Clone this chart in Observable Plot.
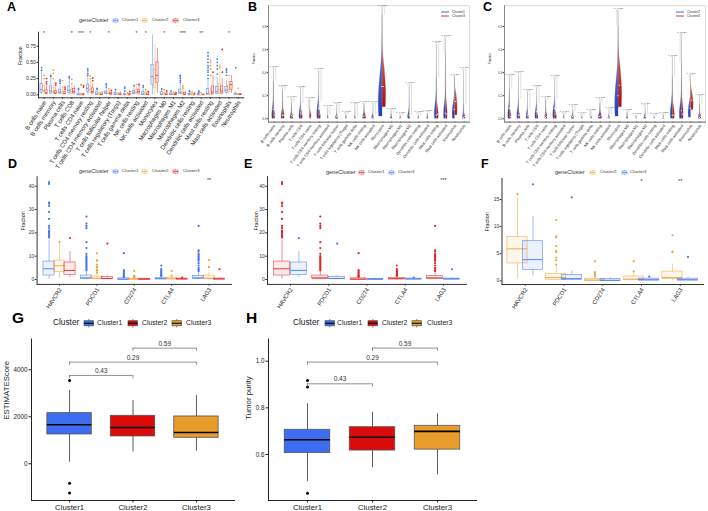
<!DOCTYPE html>
<html><head><meta charset="utf-8">
<script src="https://cdn.jsdelivr.net/npm/d3@7"></script>
<script src="https://cdn.jsdelivr.net/npm/@observablehq/plot@0.6"></script>
<style>
body{margin:0;background:#fff;}
#fig{position:relative;width:708px;height:511px;overflow:hidden;background:#fff;font-family:"Liberation Sans",Arial,sans-serif;}
</style></head><body>
<svg width="0" height="0" style="position:absolute"><defs>
<linearGradient id="gBlue" x1="0" y1="1" x2="0" y2="0"><stop offset="0" stop-color="#1e3cc0"/><stop offset="0.55" stop-color="#5a72d2"/><stop offset="1" stop-color="#f2f2f2"/></linearGradient>
<linearGradient id="gRed" x1="0" y1="1" x2="0" y2="0"><stop offset="0" stop-color="#b20c0c"/><stop offset="0.55" stop-color="#c85a5a"/><stop offset="1" stop-color="#f2f2f2"/></linearGradient>
</defs></svg>
<div id="fig"></div>
<script>
// ---------------- data ----------------
const cells = ["B cells naive","B cells memory","Plasma cells","T cells CD8","T cells CD4 naive","T cells CD4 memory resting","T cells CD4 memory activated","T cells follicular helper","T cells regulatory (Tregs)","T cells gamma delta","NK cells resting","NK cells activated","Monocytes","Macrophages M0","Macrophages M1","Macrophages M2","Dendritic cells resting","Dendritic cells activated","Mast cells resting","Mast cells activated","Eosinophils","Neutrophils"];
const genes = ["HAVCR2","PDCD1","CD274","CTLA4","LAG3"];
const clusters = ["Cluster1","Cluster2","Cluster3"];

// Panel A: [whisker low, Q1, median, Q3, whisker high] per cell type
const aC1 = [[0,0.03,0.08,0.17,0.35],[0,0.02,0.06,0.13,0.25],[0,0.02,0.04,0.08,0.15],[0,0.03,0.07,0.13,0.24],[0,0,0,0.02,0.05],[0,0.05,0.10,0.16,0.28],[0,0,0.01,0.04,0.08],[0,0.01,0.03,0.05,0.10],[0,0,0.01,0.03,0.06],[0,0,0,0.01,0.03],[0,0.01,0.03,0.06,0.12],[0,0,0.01,0.04,0.09],[0,0.15,0.28,0.46,0.92],[0,0,0.01,0.04,0.08],[0,0,0.01,0.02,0.04],[0,0.01,0.04,0.08,0.16],[0,0,0,0.01,0.03],[0,0,0,0.01,0.02],[0,0,0.02,0.09,0.22],[0,0.01,0.05,0.12,0.27],[0,0.03,0.07,0.12,0.22],[0,0,0.01,0.02,0.04]];
const aC1out = [[0.38,0.42],[0.28,0.3],[0.18,0.21,0.23],[0.26,0.28],[0.08,0.1],[0.3,0.33,0.37,0.4],[0.09,0.1],[0.12,0.15,0.17],[0.08],[0.06,0.1,0.12],[0.14],[0.12,0.14],[],[0.09],[0.06],[0.19,0.22,0.25,0.28,0.3],[0.05,0.06],[0.04,0.06],[0.25,0.3,0.35,0.38,0.42,0.45,0.5,0.55,0.6,0.65],[0.32,0.4,0.45,0.5,0.55],[0.3,0.35,0.38,0.4],[0.42]];
const aC2 = [[0,0.04,0.07,0.13,0.2],[0,0.02,0.05,0.1,0.2],[0,0.01,0.03,0.05,0.09],[0,0.02,0.05,0.08,0.14],[0,0,0,0.01,0.03],[0,0.03,0.08,0.13,0.22],[0,0,0.01,0.03,0.06],[0,0.01,0.02,0.04,0.07],[0,0,0.01,0.02,0.04],[0,0,0,0,0.01],[0,0.02,0.04,0.07,0.12],[0,0,0.01,0.03,0.06],[0,0.1,0.25,0.38,0.78],[0,0,0.01,0.03,0.06],[0,0,0.005,0.015,0.03],[0,0.005,0.02,0.04,0.08],[0,0,0,0.01,0.02],[0,0,0,0,0.01],[0,0,0.01,0.05,0.12],[0,0.02,0.08,0.17,0.35],[0,0.04,0.08,0.14,0.25],[0,0,0.005,0.01,0.02]];
const aC2out = [[0.25,0.3],[0.25,0.33,0.38],[0.12,0.22],[0.17,0.24],[0.15,0.16],[0.25,0.29],[],[0.09],[],[0.03],[0.16],[0.08],[],[0.08],[0.04],[0.1,0.12,0.14],[0.04],[0.03],[0.3,0.4,0.45,0.5,0.53],[0.42,0.45],[0.3],[0.1]];
const aC3 = [[0,0.01,0.03,0.07,0.14],[0,0.01,0.03,0.06,0.12],[0,0.01,0.02,0.04,0.07],[0,0.02,0.05,0.09,0.14],[0,0,0,0.01,0.02],[0,0.02,0.05,0.1,0.18],[0,0,0.005,0.02,0.05],[0,0.005,0.015,0.03,0.05],[0,0,0.01,0.02,0.04],[0,0,0,0.01,0.02],[0,0.02,0.05,0.08,0.15],[0,0,0.005,0.02,0.04],[0.02,0.18,0.3,0.5,0.72],[0,0,0.005,0.02,0.04],[0,0,0.005,0.01,0.02],[0,0,0.01,0.03,0.05],[0,0,0,0,0.01],[0,0,0,0.005,0.01],[0,0.005,0.04,0.13,0.3],[0,0.02,0.06,0.13,0.25],[0.02,0.08,0.16,0.2,0.3],[0,0,0.005,0.01,0.02]];
const aC3out = [[0.17,0.2,0.25],[0.15,0.18],[0.09,0.12],[],[0.12,0.14],[0.22,0.26],[],[0.07],[],[0.05],[0.16],[0.05],[],[0.06],[0.03],[],[0.02],[],[0.35],[0.35,0.7],[],[]];
const aSig = ["*","","","*","***","*","","*","","","*","*","","*","","***","","**","","","*",""];

// Panel B: Cluster1 vs Cluster3 violins (max, median, min, half-width, top of bulk)
const bC1max = [0.43,0.27,0.17,0.26,0.07,0.41,0.09,0.12,0.04,0.12,0.12,0.125,0.96,0.07,0.03,0.29,0.04,0.05,0.65,0.55,0.36,0.42];
const bC1med = [0.08,0.03,0.03,0.05,0,0.09,0,0.02,0,0,0.02,0.01,0.28,0,0,0.03,0,0,0.03,0.05,0.08,0.01];
const bC1min = [0,0,0,0,0,0,0,0,0,0,0,0,0.02,0,0,0,0,0,0,0,0,0];
const bC1w = [0.35,0.3,0.3,0.35,0.1,0.4,0.15,0.3,0.12,0.12,0.3,0.3,0.8,0.15,0.1,0.35,0.12,0.15,0.45,0.4,0.5,0.25];
const bC1bulk = [0.12,0.07,0.05,0.1,0.02,0.15,0.02,0.03,0.01,0.015,0.04,0.03,0.45,0.02,0.01,0.06,0.01,0.015,0.15,0.15,0.16,0.04];
const bC3max = [0.32,0.24,0.13,0.13,0.16,0.145,0.03,0.04,0.03,0.02,0.125,0.03,0.9,0.04,0.02,0.03,0.02,0.045,0.35,0.70,0.36,0.12];
const bC3med = [0.03,0.03,0.02,0.04,0.01,0.04,0,0.01,0,0,0.03,0,0.28,0,0,0,0,0.01,0.04,0.04,0.15,0.02];
const bC3min = [0,0,0,0,0,0,0,0,0,0,0,0,0.1,0,0,0,0,0,0,0,0.03,0];
const bC3w = [0.3,0.35,0.3,0.35,0.3,0.35,0.1,0.25,0.12,0.12,0.35,0.2,0.75,0.2,0.1,0.15,0.1,0.2,0.4,0.35,0.55,0.3];
const bC3bulk = [0.07,0.08,0.04,0.07,0.06,0.07,0.01,0.02,0.01,0.01,0.05,0.01,0.5,0.015,0.01,0.01,0.01,0.015,0.12,0.15,0.25,0.04];
const bP = ["p=0.001","p=0.327","p=0.346","p=0.129","p=0.001","p=0.019","p=0.060","p=0.029","p=0.003","p=0.846","p=0.706","p=0.048","p=0.006","p=0.102","p=0.311","p=0.001","p=0.087","p=0.017","p=0.726","p=0.968","p=0.009","p=0.426"];

// Panel C: Cluster2 vs Cluster3 violins
const cC2max = [0.36,0.39,0.235,0.27,0.17,0.35,0.04,0.10,0.03,0.02,0.16,0.075,0.80,0.06,0.02,0.11,0.02,0.03,0.53,0.49,0.31,0.19];
const cC2med = [0.09,0.03,0.03,0.06,0.01,0.09,0,0.02,0,0,0.02,0.01,0.20,0,0,0.02,0,0.01,0.03,0.07,0.09,0.01];
const cC2min = [0,0,0,0,0,0,0,0,0,0,0,0,0.02,0,0,0,0,0,0,0,0.01,0];
const cC2w = [0.35,0.35,0.3,0.35,0.2,0.4,0.12,0.3,0.12,0.1,0.35,0.25,0.7,0.15,0.1,0.3,0.1,0.2,0.45,0.45,0.5,0.25];
const cC2bulk = [0.12,0.1,0.07,0.1,0.04,0.13,0.01,0.03,0.01,0.01,0.05,0.02,0.4,0.015,0.005,0.03,0.005,0.01,0.15,0.15,0.16,0.04];
const cC3max = [0.255,0.17,0.07,0.13,0.16,0.16,0.03,0.06,0.02,0.06,0.13,0.03,0.93,0.05,0.02,0.03,0.015,0.03,0.36,0.73,0.37,0.12];
const cC3med = [0.02,0.03,0.02,0.04,0.02,0.04,0,0.01,0,0,0.03,0,0.29,0,0,0,0,0.01,0.03,0.04,0.16,0.02];
const cC3min = [0,0,0,0,0,0,0,0,0,0,0,0,0.1,0,0,0,0,0,0,0,0.075,0];
const cC3w = [0.3,0.3,0.25,0.3,0.3,0.35,0.1,0.25,0.1,0.12,0.35,0.2,0.75,0.15,0.1,0.15,0.1,0.2,0.4,0.35,0.55,0.3];
const cC3bulk = [0.07,0.05,0.03,0.05,0.05,0.06,0.01,0.02,0.01,0.015,0.05,0.01,0.5,0.015,0.005,0.01,0.005,0.01,0.12,0.15,0.25,0.04];
const cP = ["p=0.080","p=0.767","p=0.330","p=0.389","p=0.883","p=0.227","p=0.761","p=0.188","p=0.344","p=0.388","p=0.331","p=0.303","p=0.029","p=0.268","p=0.136","p=0.369","p=0.564","p=0.286","p=0.636","p=0.029","p=0.139","p=0.779"];

// Panels D/E/F: immune checkpoint genes, [low, Q1, median, Q3, high]
const dC1 = [[0.1,1.7,4.6,7.7,16.8],[0,0.2,0.7,1.7,3.8],[0,0,0.1,0.5,1.0],[0,0.1,0.3,0.6,1.3],[0,0.3,0.7,1.5,3.3]];
const dC1out = [[18,18.5,19,19.5,20,20.5,21,22,23,26,29,31.5,32.5,33,41,41.8],[4,4.5,5,5.5,6,6.5,7,7.5,8,8.5,9,9.5,10,11,13.5,16,22,23,24,27],[1.1,1.3,1.6,2,2.5,3,3.5,4,11.3],[1.5,1.8,2,2.5,3,3.5,4,4.5,6],[3.6,4,4.5,5,6,7,8,8.5,9,9.5,10,10.5,11,12,12.5,23]];
const dC2 = [[0.3,3.2,5.9,8.1,15.2],[0,0.2,0.6,1.3,2.7],[0,0,0.15,0.3,0.6],[0,0.1,0.3,0.8,1.3],[0,0.3,0.6,1.7,3.1]];
const dC2out = [[16],[3,3.8,4.3,5.3,5.5,6.4,8,8.2,11.2],[0.8,1.1,1.3,1.6,3.6],[1.7,3.6],[5.3,5.4,8.4]];
const dC3 = [[0.9,2.0,3.9,7.3,11.9],[0,0.2,0.4,1.1,1.8],[0,0,0.1,0.3,0.6],[0,0.05,0.2,0.4,0.6],[0,0.05,0.2,0.4,0.7]];
const dC3out = [[17.8],[15.4],[],[0.8],[4.4]];
const dSig = ["","","","","**"];
const eSig = ["","","","","***"];
const fSig = ["","","","*","**"];

// Panels G/H
const gStats = [[71,1248,1660,2156,3120],[496,1163,1546,2043,2695],[539,1106,1333,2014,2908]];
const gOut = [[3546,-823,-1248],[],[]];
const hStats = [[0.484,0.606,0.663,0.706,0.817],[0.543,0.617,0.674,0.717,0.781],[0.513,0.621,0.699,0.723,0.774]];
const hOut = [[0.917,0.889,0.434],[],[]];
const cmpPairs = [[0,1],[0,2],[1,2]];
const cmpP = ["0.43","0.29","0.59"];
const gCmpLevel = [3759,4326,4922];
const hCmpLevel = [0.903,0.996,1.056];

// ---------------- helpers ----------------
const FF = '"Liberation Sans", Arial, sans-serif';
const fig = document.getElementById("fig");
const BLUE = "#4677F2", ORANGE = "#F0A43A", RED = "#E3262B";
const GBLUE = "#3D6EF2", GRED = "#DB0B0B", GORANGE = "#E89C2C";

function place(el, left, top) { el.style.position = "absolute"; el.style.left = left + "px"; el.style.top = top + "px"; el.style.maxWidth = "none"; fig.appendChild(el); return el; }
function st(fs) { return {background: "transparent", fontFamily: FF, fontSize: fs + "px", color: "#333", overflow: "visible"}; }
function axisFont(svg, axis, fs) {
  svg.querySelectorAll(`g[aria-label^="${axis}-axis"] text`).forEach(t => { t.setAttribute("font-size", fs); t.style.fontSize = fs + "px"; });
}
function txt(s, x, cy, fs, extra = "") {
  const d = document.createElement("div"); d.textContent = s;
  d.style.cssText = `position:absolute;left:${x}px;top:${cy - fs * 0.62}px;font:${fs}px/${fs * 1.2}px ${FF};color:#222;white-space:nowrap;${extra}`;
  fig.appendChild(d); return d;
}
function boxKey(x, cy, w, h, stroke, fill, med, sw) {
  const s = document.createElementNS("http://www.w3.org/2000/svg", "svg");
  s.setAttribute("width", w); s.setAttribute("height", h);
  s.style.cssText = `position:absolute;left:${x}px;top:${cy - h / 2}px;overflow:visible`;
  s.innerHTML = `<line x1="${w/2}" y1="0" x2="${w/2}" y2="${h}" stroke="${stroke}" stroke-width="${sw}"/>` +
    `<rect x="0" y="${h*0.2}" width="${w}" height="${h*0.6}" fill="${fill}" stroke="${stroke}" stroke-width="${sw}"/>` +
    `<line x1="0" y1="${h/2}" x2="${w}" y2="${h/2}" stroke="${med}" stroke-width="${sw*1.5}"/>`;
  fig.appendChild(s);
}
function lineKey(x, cy, w, color) {
  const s = document.createElementNS("http://www.w3.org/2000/svg", "svg");
  s.setAttribute("width", w); s.setAttribute("height", 2);
  s.style.cssText = `position:absolute;left:${x}px;top:${cy - 1}px;overflow:visible`;
  s.innerHTML = `<line x1="0" y1="1" x2="${w}" y2="1" stroke="${color}" stroke-width="0.9"/>`;
  fig.appendChild(s);
}
function letter(s, x, top, fs) { txt(s, x, top + fs * 0.45, fs, "font-weight:bold;color:#000;"); }
// rotated category labels under the x axis (text marks on the x scale)
function xLabels(names, y0, rot, fs, dy, dx) {
  return Plot.text(d3.range(names.length), {x: d => d, y: () => y0, text: i => names[i], rotate: rot, textAnchor: "end", lineAnchor: "middle", dx, dy, fontSize: fs, fill: "#1a1a1a"});
}

function boxes(stats, outs, off, hw, col, o) {
  const rows = stats.map((s, i) => ({x: i + off, lo: s[0], q1: s[1], med: s[2], q3: s[3], hi: s[4]}));
  const pts = outs.flatMap((a, i) => a.map(v => ({x: i + off, y: v})));
  const ws = o.wStroke || col, bs = o.bStroke || col;
  return [
    Plot.ruleX(rows, {x: "x", y1: "lo", y2: "q1", stroke: ws, strokeWidth: o.sw, strokeOpacity: o.so || 1}),
    Plot.ruleX(rows, {x: "x", y1: "q3", y2: "hi", stroke: ws, strokeWidth: o.sw, strokeOpacity: o.so || 1}),
    Plot.rect(rows, {x1: d => d.x - hw, x2: d => d.x + hw, y1: "q1", y2: "q3", fill: o.fill || col, fillOpacity: o.fo == null ? 1 : o.fo, stroke: bs, strokeWidth: o.sw, strokeOpacity: o.so || 1}),
    Plot.ruleY(rows, {y: "med", x1: d => d.x - hw, x2: d => d.x + hw, stroke: o.mStroke || col, strokeWidth: o.mw}),
    Plot.dot(pts, {x: "x", y: "y", r: o.r, fill: o.dot || col, stroke: "none"})
  ];
}
// half-violin outline: widths relative to the read half-width at a few heights
function violinRows(mx, md, mn, w, bulk, side) {
  const rows = [];
  mx.forEach((m, i) => {
    const lo = mn[i], b = Math.max(bulk[i], lo);
    [[lo, 0.8], [lo + (b - lo) * 0.4, 1], [b, 0.35], [b + (m - b) * 0.2, 0.08], [m, 0]]
      .forEach(([y, f]) => rows.push({id: i, y, x1: i, x2: i + side * w[i] * f * 0.6}));
  });
  return rows;
}
function sigRows(sig) { return sig.map((s, i) => ({i, s})).filter(d => d.s); }
const blank = () => "";

// ---------------- Panel A ----------------
const boxOptA = {sw: 0.55, so: 0.85, fo: 0.12, mw: 0.75, r: 0.9};
const aY = [-0.046, 0.966];
const svgA = Plot.plot({
  width: 250, height: 160, marginLeft: 38, marginRight: 6.7, marginTop: 31.7, marginBottom: 62.7,
  x: {domain: [-0.6, 21.6], ticks: d3.range(22), tickFormat: blank, tickSize: 1.5, line: true, label: null},
  y: {domain: aY, ticks: [0, 0.25, 0.5, 0.75], tickFormat: d3.format(".2f"), tickSize: 1.5, tickPadding: 1, line: true, label: null},
  style: st(5),
  marks: [
    ...boxes(aC1, aC1out, -0.27, 0.12, BLUE, boxOptA),
    ...boxes(aC2, aC2out, 0, 0.12, ORANGE, boxOptA),
    ...boxes(aC3, aC3out, 0.27, 0.12, RED, boxOptA),
    xLabels(cells, aY[0], -57, 6.0, 3.5, 1),
    Plot.text(sigRows(aSig), {x: "i", y: () => 0.94, text: "s", fontSize: 5, fill: "#333"}),
    Plot.text(["Fraction"], {frameAnchor: "left", dx: -18, rotate: -90, text: d => d, fontSize: 5.2, fill: "#1a1a1a"})
  ]
});
axisFont(svgA, "y", 5.2);
place(svgA, 0, 0);

// ---------------- Panels B & C ----------------
function violinPanel(m1, md1, mn1, w1, bk1, m2, md2, mn2, w2, bk2, P) {
  const br = m1.map((m, i) => ({i, a: m, b: m2[i], t: Math.max(m, m2[i]) + 0.012, p: P[i]}));
  const med1 = md1.map((v, i) => ({x: i - 0.08, y: v}));
  const med2 = md2.map((v, i) => ({x: i + 0.08, y: v}));
  const yd = [-0.03, 0.98];
  const svg = Plot.plot({
    width: 236, height: 160, marginLeft: 32, marginRight: 3, marginTop: 5.3, marginBottom: 38.3,
    x: {domain: [-0.6, 21.6], ticks: d3.range(22), tickFormat: blank, tickSize: 1.2, line: true, label: null},
    y: {domain: yd, ticks: [0, 0.2, 0.4, 0.6, 0.8], tickFormat: d3.format(".1f"), tickSize: 1.2, tickPadding: 0.8, line: true, label: null},
    style: st(3),
    marks: [
      Plot.frame({stroke: "#c4c4c4", strokeWidth: 0.6}),
      Plot.areaX(violinRows(m1, md1, mn1, w1, bk1, -1), {x1: "x1", x2: "x2", y: "y", z: "id", fill: "url(#gBlue)", stroke: "#8a8a8a", strokeWidth: 0.25, curve: "basis"}),
      Plot.areaX(violinRows(m2, md2, mn2, w2, bk2, 1), {x1: "x1", x2: "x2", y: "y", z: "id", fill: "url(#gRed)", stroke: "#8a8a8a", strokeWidth: 0.25, curve: "basis"}),
      Plot.dot(med1, {x: "x", y: "y", r: 0.6, fill: "white", symbol: "square"}),
      Plot.dot(med2, {x: "x", y: "y", r: 0.6, fill: "white", symbol: "square"}),
      Plot.ruleX(br, {x: d => d.i - 0.2, y1: d => d.a + 0.004, y2: "t", stroke: "#999", strokeWidth: 0.3}),
      Plot.ruleX(br, {x: d => d.i + 0.2, y1: d => d.b + 0.004, y2: "t", stroke: "#999", strokeWidth: 0.3}),
      Plot.ruleY(br, {y: "t", x1: d => d.i - 0.2, x2: d => d.i + 0.2, stroke: "#999", strokeWidth: 0.3}),
      Plot.text(br, {x: "i", y: "t", text: "p", dy: -1.5, fontSize: 2.5, fill: "#444"}),
      xLabels(cells, yd[0], -53, 3.9, 2.8, 0.6),
      Plot.text(["Fraction"], {frameAnchor: "left", dx: -14.5, rotate: -90, text: d => d, fontSize: 3, fill: "#1a1a1a"})
    ]
  });
  axisFont(svg, "y", 3);
  return svg;
}
place(violinPanel(bC1max, bC1med, bC1min, bC1w, bC1bulk, bC3max, bC3med, bC3min, bC3w, bC3bulk, bP), 236, 0);
place(violinPanel(cC2max, cC2med, cC2min, cC2w, cC2bulk, cC3max, cC3med, cC3min, cC3w, cC3bulk, cP), 472, 0);

// ---------------- Panels D, E, F ----------------
function genePanel(series, opts) {
  const svg = Plot.plot({
    width: 236, height: 150, marginLeft: opts.ml, marginRight: opts.mr, marginTop: opts.mt, marginBottom: opts.mb,
    x: {domain: [-0.6, 4.6], ticks: d3.range(5), tickFormat: blank, tickSize: 1.8, line: true, label: null},
    y: {domain: opts.yd, ticks: opts.yt, tickSize: 1.8, tickPadding: 1, line: true, label: null},
    style: st(5),
    marks: [
      ...series.flatMap(s => boxes(s.stats, s.outs, s.off, opts.hw, s.col, {sw: 0.6, so: 0.85, fo: 0.1, mw: 0.9, r: 1.1})),
      xLabels(genes, opts.yd[0], -57, 5.9, 4, 1),
      Plot.text(sigRows(opts.sig), {x: "i", y: () => opts.sigY, text: "s", fontSize: 5.5, fill: "#333"}),
      Plot.text(["Fraction"], {frameAnchor: "left", dx: opts.ldx, rotate: -90, text: d => d, fontSize: 5.3, fill: "#1a1a1a"})
    ]
  });
  axisFont(svg, "y", 5);
  return svg;
}
place(genePanel([
  {stats: dC1, outs: dC1out, off: -0.28, col: BLUE},
  {stats: dC2, outs: dC2out, off: 0, col: ORANGE},
  {stats: dC3, outs: dC3out, off: 0.28, col: RED}
], {ml: 36.6, mr: 5, mt: 16.2, mb: 26.1, yd: [-2.1, 44.1], yt: [0, 10, 20, 30, 40], hw: 0.15, sig: dSig, sigY: 42.6, ldx: -13.6}), 0, 160);
place(genePanel([
  {stats: dC1, outs: dC1out, off: -0.22, col: RED},
  {stats: dC3, outs: dC3out, off: 0.22, col: BLUE}
], {ml: 31, mr: 6, mt: 16.2, mb: 26.1, yd: [-2.1, 44.1], yt: [0, 10, 20, 30, 40], hw: 0.21, sig: eSig, sigY: 42.6, ldx: -11}), 236, 160);
place(genePanel([
  {stats: dC2, outs: dC2out, off: -0.2, col: ORANGE},
  {stats: dC3, outs: dC3out, off: 0.2, col: BLUE}
], {ml: 29.5, mr: 5, mt: 18, mb: 26, yd: [-0.68, 18.87], yt: [0, 5, 10, 15], hw: 0.26, sig: fSig, sigY: 18.3, ldx: -14.5}), 472, 160);

// ---------------- Panels G, H ----------------
function scorePanel(stats, outs, level, opts) {
  const cols = [GBLUE, GRED, GORANGE];
  const bx = [];
  stats.forEach((s, i) => bx.push(...boxes([s], [outs[i]], i, 0.35, cols[i], {sw: 0.8, wStroke: "#333", bStroke: "#555", mStroke: "#000", mw: 1.6, r: 1.5, dot: "#000"})));
  const br = cmpPairs.map((p, k) => ({a: p[0], b: p[1], y: level[k], p: cmpP[k]}));
  const svg = Plot.plot({
    width: opts.w, height: 181, marginLeft: opts.ml, marginRight: opts.mr, marginTop: 8.5, marginBottom: 11,
    x: {domain: [-0.6, 2.6], ticks: [0, 1, 2], tickFormat: i => clusters[i], tickSize: 2.5, tickPadding: 1, line: true, label: null},
    y: {domain: opts.yd, ticks: opts.yt, tickFormat: opts.fmt, tickSize: 2.5, tickPadding: 1.5, line: true, label: null},
    style: {...st(6.3), color: "#222"},
    marks: [
      ...bx,
      Plot.ruleY(br, {y: "y", x1: "a", x2: "b", stroke: "#666", strokeWidth: 0.7}),
      Plot.ruleX(br, {x: "a", y1: d => d.y - opts.leg, y2: "y", stroke: "#666", strokeWidth: 0.7}),
      Plot.ruleX(br, {x: "b", y1: d => d.y - opts.leg, y2: "y", stroke: "#666", strokeWidth: 0.7}),
      Plot.text(br, {x: d => (d.a + d.b) / 2, y: "y", text: "p", dy: -4.5, fontSize: 6.5, fill: "#333"}),
      Plot.text([opts.label], {frameAnchor: "left", dx: opts.ldx, rotate: -90, text: d => d, fontSize: 7.8, fill: "#222"})
    ]
  });
  axisFont(svg, "x", 7.8); axisFont(svg, "y", 6.3);
  return svg;
}
place(scorePanel(gStats, gOut, gCmpLevel, {w: 240, ml: 31, mr: 6, yd: [-1562, 5311], yt: [0, 2000, 4000], fmt: d3.format("d"), leg: 140, label: "ESTIMATEScore", ldx: -25}), 0, 330);
place(scorePanel(hStats, hOut, hCmpLevel, {w: 244, ml: 32, mr: 4, yd: [0.403, 1.095], yt: [0.6, 0.8, 1.0], fmt: d3.format(".1f"), leg: 0.0141, label: "Tumor purity", ldx: -20}), 236, 330);

// ---------------- letters & legends ----------------
letter("A", 7, 2.5, 12.5); letter("B", 248, 2.5, 12.5); letter("C", 483, 2.5, 12.5);
letter("D", 8, 159, 12.5); letter("E", 244, 159, 12.5); letter("F", 481, 159, 12.5);
letter("G", 12, 312, 15.5); letter("H", 246, 312, 15.5);

function geneLegend(y, titleX, items) {
  txt("geneCluster", titleX, y, 5.5, "color:#333;");
  items.forEach(([kx, lx, col, lab]) => { boxKey(kx, y, 5, 5, col, "#fff", col, 0.5); txt(lab, lx, y, 4.4, "color:#333;"); });
}
geneLegend(20, 79, [[113, 122, BLUE, "Cluster1"], [142, 152, ORANGE, "Cluster2"], [173, 183, RED, "Cluster3"]]);
geneLegend(171, 79, [[113, 122, BLUE, "Cluster1"], [142, 152, ORANGE, "Cluster2"], [173, 183, RED, "Cluster3"]]);
geneLegend(172, 326, [[359, 368, RED, "Cluster1"], [389, 398, BLUE, "Cluster3"]]);
geneLegend(172, 555, [[590, 600, ORANGE, "Cluster2"], [622, 630, BLUE, "Cluster3"]]);

lineKey(441, 11.7, 8, "#2f57d8"); txt("Cluster1", 452, 11.7, 3.5, "color:#333;");
lineKey(441, 16, 8, "#cf1f1f"); txt("Cluster3", 452, 16, 3.5, "color:#333;");
lineKey(676, 11.7, 8, "#2f57d8"); txt("Cluster2", 687, 11.7, 3.5, "color:#333;");
lineKey(676, 16, 8, "#cf1f1f"); txt("Cluster3", 687, 16, 3.5, "color:#333;");

function clusterLegend(y, titleX, xs) {
  txt("Cluster", titleX, y, 8.3, "color:#222;");
  const cols = [GBLUE, GRED, GORANGE];
  xs.forEach(([kx, lx], i) => { boxKey(kx, y, 9.5, 8.5, "#555", cols[i], "#000", 0.7); txt(clusters[i], lx, y, 6.8, "color:#222;"); });
}
clusterLegend(323, 53, [[84, 97], [128, 142], [172, 186]]);
clusterLegend(323, 293, [[325, 337], [368, 382], [412, 427]]);
</script></body></html>
